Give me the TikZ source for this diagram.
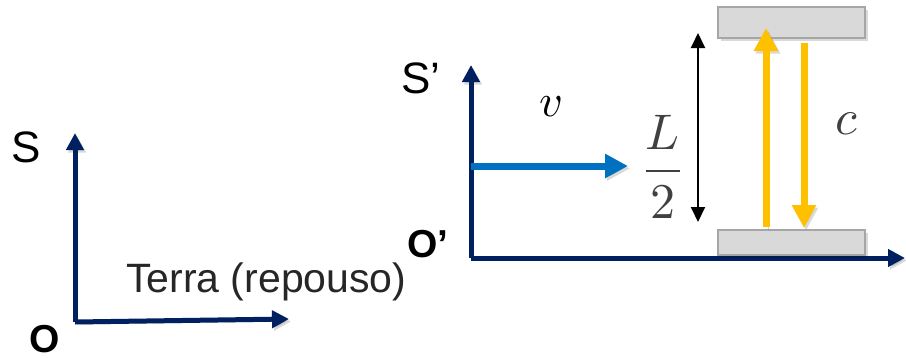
\documentclass[tikz,border=0pt]{standalone}
\usepackage{unicode-math}
\setmainfont{Liberation Sans}
\setmathfont{Latin Modern Math}
\usetikzlibrary{arrows.meta}
\definecolor{navy}{RGB}{0,32,96}
\definecolor{vblue}{RGB}{0,112,192}
\definecolor{gold}{RGB}{255,192,0}
\definecolor{plate}{RGB}{217,217,217}
\definecolor{platedge}{RGB}{166,166,166}
\definecolor{mathgray}{RGB}{64,64,64}
\definecolor{textgray}{RGB}{38,38,38}
\tikzset{
  shade/.style={preaction={draw=black,opacity=0.15,transform canvas={shift={(2pt,-2.5pt)}}}},
  axis/.style={draw=navy,line width=5pt,-{Triangle[length=17pt,width=17pt]},shade},
  velarrow/.style={draw=vblue,line width=7pt,-{Triangle[length=23pt,width=23pt]},shade},
  lightray/.style={draw=gold,line width=7pt,-{Triangle[length=23pt,width=23pt]},shade},
  dimarrow/.style={draw=black,line width=2pt,{Triangle[length=15pt,width=14pt]}-{Triangle[length=15pt,width=14pt]}},
  mirror/.style={draw=platedge,fill=plate,line width=1.5pt,inner sep=0pt,rectangle,
     preaction={fill=black,opacity=0.15,transform canvas={shift={(3pt,-3pt)}}}},
  lbl/.style={inner sep=0pt,font=\fontsize{44}{48}\selectfont},
  blbl/.style={inner sep=0pt,font=\fontsize{39}{42}\selectfont\bfseries},
  mlbl/.style={inner sep=0pt,text=mathgray}
}
\begin{document}
\begin{tikzpicture}[x=1pt,y=-1pt]
\useasboundingbox (0,0) rectangle (906,359);
% left frame S
\coordinate (O) at (75,322);
\coordinate (Stop) at (75,133);
\coordinate (Sright) at (289,319);
\draw[axis] (O) -- (Stop);
\draw[axis] (O) -- (Sright);
\node[lbl,anchor=base west] (S) at (11,162) {S};
\node[blbl,anchor=base west] (Olbl) at (29,352) {O};
\node[inner sep=0pt,font=\fontsize{41}{45}\selectfont,anchor=base west,text=textgray] (terra) at (126,292) {Terra (repouso)};
% right frame S'
\coordinate (O2) at (471,258);
\coordinate (S2top) at (471,65);
\coordinate (S2right) at (905,258);
\draw[axis] (O2) -- (S2top);
\draw[axis] (O2) -- (S2right);
\node[lbl,anchor=base west] (S2) at (401,93) {S’};
\node[blbl,anchor=base west] (O2lbl) at (407,257) {O’};
% velocity
\coordinate (vs) at (471,166);
\coordinate (ve) at (628,166);
\draw[velarrow] (vs) -- (ve);
\node[mlbl,text=black,font=\fontsize{46}{50}\selectfont] (v) at (551,107) {$v$};
% mirrors
\node[mirror,minimum width=147pt,minimum height=31pt] (top) at (791.5,22.5) {};
\node[mirror,minimum width=147pt,minimum height=25pt] (bot) at (791.5,242.5) {};
% light rays
\coordinate (upS) at (766,227);
\coordinate (upE) at (766,28);
\coordinate (dnS) at (804,43);
\coordinate (dnE) at (804,228);
\draw[lightray] (upS) -- (upE);
\draw[lightray] (dnS) -- (dnE);
\node[mlbl,font=\fontsize{50}{54}\selectfont] (c) at (847,124) {$c$};
% L/2 dimension
\coordinate (dtop) at (698,33);
\coordinate (dbot) at (698,222);
\draw[dimarrow] (dtop) -- (dbot);
\node[mlbl,font=\fontsize{50}{54}\selectfont] (frac) at (663,167) {$\displaystyle\frac{L}{2}$};
\end{tikzpicture}
\end{document}
